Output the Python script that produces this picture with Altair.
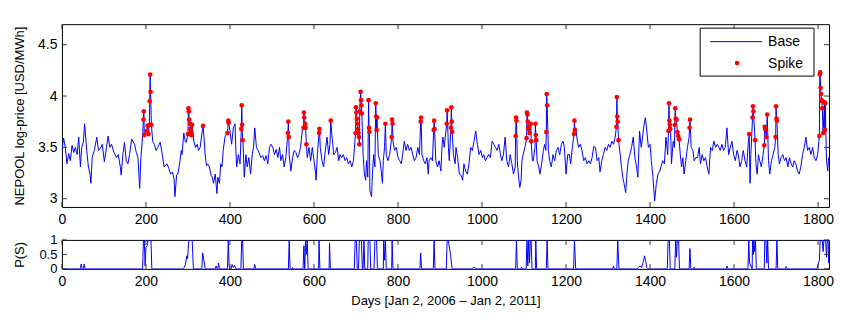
import altair as alt
import pandas as pd

FONT = "Liberation Sans"

# ---------------- data ----------------
base_days = [0, 4, 8, 12, 16, 20, 24, 28, 32, 36, 40, 44, 47, 51, 54, 59, 63, 67, 69, 72, 77, 83, 87, 93, 96, 101, 106, 110, 114, 118, 124, 130, 134, 139, 141, 145, 149, 153, 157, 161, 166, 173, 177, 181, 185, 188, 192, 198, 216, 220, 224, 228, 234, 239, 243, 250, 255, 259, 263, 267, 269, 273, 276, 281, 284, 286, 290, 294, 296,
             314, 318, 322, 325, 329, 333, 337, 341, 344, 347, 351, 355, 358, 361, 365, 369, 371, 375, 378, 381, 384, 388, 392, 400, 404, 408, 412, 414, 416, 420, 424, 431, 434, 438, 441, 445, 449, 453, 456, 459, 463, 467, 471, 474, 478, 482, 486, 490, 494, 498, 502, 506, 510, 514, 518, 521, 525, 529, 533, 537, 541, 545, 549, 553, 557, 561, 564, 568, 572, 584, 588, 592, 596,
             600, 604, 605, 608, 615, 619, 623, 627, 631, 635, 638, 643, 647, 651, 655, 659, 662, 666, 670, 674, 678, 682, 686, 690, 694, 717, 720, 723, 725, 728, 733, 735, 737, 739, 742, 745, 753, 757, 760, 763, 765, 768, 772, 776, 780, 784, 788, 792, 796, 800, 804, 808, 811, 815, 819, 823, 827, 831, 835, 839, 843, 847, 851, 857, 861, 865, 869, 872, 874, 878, 882, 890, 894, 898,
             902, 905, 907, 910, 914, 920, 922, 932, 936, 938, 942, 946, 950, 954, 957, 961, 965, 969, 973, 977, 981, 985, 989, 993, 997, 1001, 1004, 1008, 1012, 1016, 1020, 1024, 1028, 1032, 1036, 1040, 1044, 1047, 1051, 1055, 1059, 1063, 1067, 1071, 1075, 1079, 1084, 1087, 1090, 1093, 1095, 1098, 1102, 1105, 1120, 1122, 1126, 1131, 1135, 1138, 1142, 1146, 1149, 1152, 1158, 1161, 1165, 1169, 1173, 1177, 1181, 1185, 1189, 1193, 1196,
             1200, 1204, 1208, 1211, 1215, 1224, 1227, 1230, 1234, 1238, 1242, 1246, 1250, 1254, 1258, 1262, 1266, 1270, 1274, 1278, 1281, 1285, 1289, 1293, 1297, 1301, 1305, 1309, 1313, 1317, 1326, 1329, 1332, 1335, 1338, 1342, 1345, 1348, 1352, 1356, 1360, 1364, 1368, 1371, 1375, 1379, 1383, 1387, 1389, 1393, 1396, 1400, 1403, 1407, 1409, 1411, 1415, 1419, 1423, 1426, 1430, 1434, 1438, 1442, 1449, 1451, 1455, 1458, 1472, 1475, 1478, 1481, 1485, 1489, 1493, 1498,
             1502, 1505, 1509, 1513, 1517, 1520, 1524, 1528, 1532, 1536, 1540, 1544, 1548, 1552, 1556, 1560, 1564, 1567, 1571, 1575, 1579, 1583, 1587, 1591, 1595, 1599, 1603, 1607, 1610, 1614, 1618, 1622, 1626, 1630, 1634, 1638, 1640, 1652, 1655, 1658, 1661, 1665, 1669, 1682, 1685, 1689, 1693, 1697, 1705, 1708, 1712, 1716, 1720, 1724, 1728, 1732, 1736, 1740, 1743, 1747, 1751, 1755, 1759, 1763, 1767, 1771, 1775, 1779, 1783, 1787, 1791, 1795, 1799, 1820, 1823, 1825]
base_vals = [3.47, 3.59, 3.50, 3.34, 3.44, 3.37, 3.52, 3.45, 3.50, 3.43, 3.60, 3.31, 3.50, 3.55, 3.73, 3.47, 3.31, 3.24, 3.15, 3.40, 3.47, 3.60, 3.47, 3.50, 3.53, 3.36, 3.50, 3.61, 3.50, 3.53, 3.45, 3.40, 3.43, 3.31, 3.23, 3.43, 3.55, 3.37, 3.34, 3.43, 3.58, 3.53, 3.45, 3.40, 3.10, 3.40, 3.61, 3.63, 3.56, 3.53, 3.47, 3.50, 3.55, 3.43, 3.31, 3.34, 3.29, 3.24, 3.26, 3.19, 3.02, 3.23, 3.24, 3.37, 3.47, 3.43, 3.64, 3.55, 3.55,
             3.56, 3.50, 3.53, 3.47, 3.50, 3.63, 3.66, 3.43, 3.32, 3.34, 3.31, 3.23, 3.21, 3.15, 3.24, 3.05, 3.21, 3.15, 3.34, 3.31, 3.47, 3.60, 3.63, 3.66, 3.53, 3.69, 3.73, 3.47, 3.31, 3.43, 3.34, 3.56, 3.21, 3.43, 3.31, 3.40, 3.24, 3.43, 3.50, 3.69, 3.50, 3.47, 3.43, 3.40, 3.42, 3.37, 3.42, 3.34, 3.50, 3.53, 3.50, 3.43, 3.48, 3.40, 3.50, 3.37, 3.43, 3.31, 3.40, 3.60, 3.43, 3.27, 3.40, 3.47, 3.45, 3.40, 3.43, 3.50, 3.66, 3.40, 3.50, 3.37, 3.50,
             3.37, 3.24, 3.18, 3.43, 3.50, 3.37, 3.31, 3.47, 3.60, 3.43, 3.53, 3.60, 3.43, 3.45, 3.50, 3.37, 3.43, 3.40, 3.43, 3.37, 3.40, 3.34, 3.37, 3.31, 3.37, 3.43, 3.24, 3.18, 3.37, 3.21, 3.08, 3.05, 3.02, 3.24, 3.43, 3.31, 3.43, 3.37, 3.27, 3.15, 3.37, 3.50, 3.43, 3.37, 3.43, 3.56, 3.56, 3.47, 3.50, 3.40, 3.37, 3.34, 3.43, 3.56, 3.47, 3.53, 3.47, 3.50, 3.43, 3.37, 3.40, 3.50, 3.43, 3.43, 3.37, 3.34, 3.40, 3.24, 3.37, 3.40, 3.37, 3.37, 3.31, 3.37,
             3.27, 3.53, 3.60, 3.50, 3.66, 3.50, 3.37, 3.43, 3.34, 3.50, 3.40, 3.24, 3.23, 3.18, 3.34, 3.27, 3.24, 3.34, 3.50, 3.47, 3.56, 3.66, 3.53, 3.43, 3.47, 3.40, 3.43, 3.37, 3.40, 3.43, 3.40, 3.56, 3.53, 3.50, 3.47, 3.53, 3.43, 3.37, 3.43, 3.60, 3.37, 3.31, 3.43, 3.34, 3.24, 3.31, 3.37, 3.21, 3.11, 3.18, 3.37, 3.43, 3.50, 3.56, 3.37, 3.37, 3.50, 3.37, 3.31, 3.24, 3.34, 3.47, 3.53, 3.47, 3.47, 3.37, 3.31, 3.43, 3.37, 3.47, 3.50, 3.43, 3.53, 3.56, 3.50,
             3.24, 3.43, 3.43, 3.34, 3.50, 3.66, 3.56, 3.50, 3.53, 3.47, 3.37, 3.40, 3.34, 3.37, 3.34, 3.40, 3.51, 3.50, 3.37, 3.40, 3.26, 3.37, 3.43, 3.50, 3.47, 3.53, 3.50, 3.56, 3.53, 3.60, 3.53, 3.43, 3.31, 3.21, 3.15, 3.06, 3.24, 3.37, 3.43, 3.50, 3.60, 3.40, 3.31, 3.21, 3.66, 3.50, 3.63, 3.76, 3.79, 3.63, 3.50, 3.53, 3.37, 3.21, 3.08, 2.98, 3.15, 3.24, 3.27, 3.31, 3.37, 3.34, 3.60, 3.43, 3.66, 3.34, 3.56, 3.50, 3.43, 3.31, 3.40, 3.24, 3.37, 3.50, 3.60, 3.50,
             3.47, 3.37, 3.40, 3.40, 3.50, 3.34, 3.43, 3.37, 3.40, 3.31, 3.24, 3.50, 3.47, 3.56, 3.50, 3.53, 3.50, 3.47, 3.53, 3.47, 3.50, 3.69, 3.43, 3.50, 3.56, 3.43, 3.37, 3.47, 3.43, 3.31, 3.37, 3.47, 3.37, 3.31, 3.55, 3.15, 3.43, 3.34, 3.24, 3.43, 3.37, 3.31, 3.43, 3.37, 3.24, 3.37, 3.43, 3.50, 3.43, 3.34, 3.40, 3.43, 3.37, 3.40, 3.31, 3.40, 3.34, 3.31, 3.37, 3.34, 3.27, 3.24, 3.31, 3.43, 3.50, 3.60, 3.47, 3.50, 3.43, 3.50, 3.40, 3.37, 3.43, 3.37, 3.27, 3.40]

spike_days = [194, 195, 196, 202, 204, 206, 208, 209, 210, 211, 213,
              300, 301, 302, 303, 305, 306, 307, 308, 310, 336, 394, 396, 397, 427, 428, 429, 430,
              538, 539, 540, 575, 576, 577, 579, 580, 582, 612, 613, 640,
              699, 700, 701, 702, 703, 705, 706, 707, 708, 709, 711, 712, 713, 714,
              730, 731, 732, 747, 748, 749, 750, 770, 785, 786, 787, 854, 855, 885, 886, 887,
              916, 917, 926, 927, 928, 929, 1080, 1081, 1082,
              1106, 1107, 1108, 1109, 1110, 1111, 1112, 1113, 1116, 1117, 1127, 1128, 1129, 1153, 1154, 1155,
              1219, 1220, 1221, 1320, 1321, 1322, 1323, 1325,
              1444, 1445, 1446, 1447, 1448, 1459, 1460, 1461, 1463, 1465, 1467, 1469, 1494, 1495,
              1636, 1644, 1645, 1646, 1650, 1672, 1673, 1674, 1677, 1679, 1699, 1700, 1701, 1702,
              1803, 1804, 1805, 1806, 1807, 1808, 1809, 1810, 1812, 1815, 1816, 1817]
spike_vals = [3.77, 3.85, 3.62, 3.66, 3.71, 3.63, 3.72, 3.95, 4.21, 4.04, 3.72,
              3.63, 3.88, 3.85, 3.77, 3.73, 3.68, 3.65, 3.62, 3.72, 3.71, 3.64, 3.76, 3.74, 3.68, 3.91, 3.72, 3.57,
              3.64, 3.75, 3.60, 3.69, 3.84, 3.79, 3.73, 3.69, 3.53, 3.64, 3.68, 3.76,
              3.64, 3.89, 3.84, 3.78, 3.73, 3.68, 3.64, 3.60, 3.53, 3.85, 4.04, 3.96, 3.91, 3.83,
              3.96, 3.69, 3.65, 3.93, 3.80, 3.67, 3.79, 3.73, 3.60, 3.77, 3.73, 3.75, 3.79, 3.67, 3.76, 3.68,
              3.73, 3.86, 3.69, 3.89, 3.75, 3.65, 3.61, 3.79, 3.76,
              3.59, 3.84, 3.82, 3.75, 3.68, 3.69, 3.70, 3.64, 3.73, 3.56, 3.73, 3.62, 3.57, 3.65, 4.02, 3.91,
              3.63, 3.76, 3.67, 3.70, 3.99, 3.80, 3.75, 3.57,
              3.66, 3.93, 3.76, 3.72, 3.68, 3.72, 3.88, 3.78, 3.77, 3.65, 3.61, 3.58, 3.69, 3.77,
              3.63, 3.79, 3.90, 3.85, 3.57, 3.52, 3.70, 3.68, 3.60, 3.82, 3.60, 3.90, 3.78, 3.76,
              3.61, 4.21, 4.23, 4.08, 4.02, 3.96, 3.95, 3.88, 3.64, 3.94, 3.67, 3.93]

ps_days = [0, 44, 46, 48, 51, 53, 55,
           192, 194, 196, 198, 200, 203, 205, 212, 214,
           288, 291, 294, 297, 299, 302, 310, 313, 333, 335, 338, 341,
           365, 367, 369, 371, 373, 375, 394, 396, 398, 400, 403, 405, 408, 411, 414, 426, 428, 430, 432, 457, 459, 461,
           539, 541, 543, 548, 549, 551, 574, 576, 578, 580, 582, 584, 586, 611, 612, 614, 636, 637, 639,
           696, 698, 701, 703, 706, 708, 713, 715, 717, 719, 721, 728, 729, 733, 735, 743, 745, 749, 751,
           765, 766, 768, 770, 772, 785, 786, 788, 852, 854, 856, 884, 886, 888, 915, 917, 920, 925, 929,
           976, 978, 984, 986, 1080, 1082, 1084, 1093, 1094, 1096,
           1105, 1107, 1109, 1111, 1113, 1115, 1117, 1119, 1127, 1128, 1130, 1153, 1155, 1157,
           1218, 1220, 1223, 1311, 1313, 1315, 1321, 1323, 1326,
           1370, 1372, 1376, 1380, 1384, 1387, 1390, 1392, 1395,
           1441, 1443, 1446, 1448, 1459, 1461, 1463, 1465, 1468, 1470, 1493, 1495, 1497, 1504, 1505, 1507,
           1581, 1583, 1585, 1633, 1635, 1637, 1643, 1644, 1646, 1647, 1649, 1651, 1653,
           1672, 1673, 1676, 1678, 1680, 1682, 1700, 1702, 1704, 1722, 1724, 1726,
           1797, 1799, 1801, 1803, 1805, 1810, 1812, 1814, 1818, 1820, 1822, 1824, 1825]
ps_vals = [0, 0, 0.17, 0, 0, 0.17, 0,
           0, 1, 1, 0.1, 0.75, 0.8, 1, 1, 0,
           0, 0.05, 0.15, 0.45, 0.35, 1, 1, 0, 0, 0.55, 0.3, 0,
           0, 0.1, 0, 0, 0.2, 0, 0, 1, 0.1, 0, 0, 0.15, 0.05, 0.12, 0, 0, 1, 1, 0, 0, 0.15, 0,
           0, 1, 0, 0, 0.05, 0, 0, 0.8, 0, 1, 0.5, 1, 0, 0, 1, 0, 0, 0.9, 0,
           0, 1, 1, 0, 0, 1, 1, 0, 0, 1, 0, 0, 1, 1, 0, 0, 1, 1, 0,
           0, 1, 0.3, 1, 0, 0, 1, 0, 0, 0.55, 0, 0, 1, 0, 0, 1, 0.95, 0.5, 0,
           0, 0.04, 0.04, 0, 0, 1, 0, 0, 0.06, 0,
           0, 1, 0.1, 1, 0.2, 1, 1, 0, 0, 1, 0, 0, 1, 0,
           0, 1, 0, 0, 0.1, 0, 0, 1, 0,
           0, 0.05, 0.1, 0.05, 0.25, 0.45, 0.25, 0.05, 0,
           0, 1, 1, 0, 0, 1, 0.4, 1, 1, 0, 0, 0.7, 0, 0, 0.06, 0,
           0, 0.1, 0, 0, 1, 0.2, 0, 1, 0.5, 1, 0.6, 1, 0,
           0, 1, 1, 0.2, 1, 0, 0, 1, 0, 0, 0.08, 0,
           0, 0.1, 0.2, 0.3, 1, 1, 0.6, 1, 1, 0.4, 1, 1, 0.2]

x_ticks = [0, 200, 400, 600, 800, 1000, 1200, 1400, 1600, 1800]
y_ticks = [3, 3.5, 4, 4.5]
ps_ticks = [0, 0.5, 1]
legend_labels = ["Base", "Spike"]

# ---------------- tables ----------------
line_df = pd.DataFrame({"day": base_days + spike_days, "val": base_vals + spike_vals})
line_df = line_df.sort_values("day", kind="stable").reset_index(drop=True)
line_df["ord"] = range(len(line_df))
spike_df = pd.DataFrame({"day": spike_days, "val": spike_vals})
ps_df = pd.DataFrame({"day": ps_days, "p": ps_vals})
one = pd.DataFrame({"k": [0]})

W, H1, H2 = 768, 183, 29
BLUE, RED = "#0000ff", "#ff0000"
TICKC = "#333333"

xs = alt.Scale(domain=[0, 1826], nice=False, zero=False)
ys = alt.Scale(domain=[2.92, 4.7], nice=False, zero=False)
ps_s = alt.Scale(domain=[0, 1], nice=False, zero=False)


def xaxis(title=None):
    return alt.Axis(values=x_ticks, ticks=False, domain=False, grid=False, labelPadding=6,
                    format="d", labelFlush=False, title=title, titlePadding=6)


def yaxis(vals, title, lsize=14):
    return alt.Axis(values=vals, ticks=False, domain=False, grid=False, labelPadding=5,
                    format="~g", title=title, titlePadding=11, minExtent=24, maxExtent=24,
                    labelFlush=False, labelFontSize=lsize)


def inner_ticks(xvals, yvals, xscale, yscale, h, yname, xax, yax):
    tx = pd.DataFrame({"day": xvals})
    ty = pd.DataFrame({yname: yvals})
    r = dict(color=TICKC, strokeWidth=1)
    Y = alt.Y(f"{yname}:Q", scale=yscale, axis=yax)
    X = alt.X("day:Q", scale=xscale, axis=xax)
    return [
        alt.Chart(ty).mark_rule(**r).encode(y=Y, x=alt.value(0), x2=alt.value(5)),
        alt.Chart(ty).mark_rule(**r).encode(y=Y, x=alt.value(W - 5), x2=alt.value(W)),
        alt.Chart(tx).mark_rule(**r).encode(x=X, y=alt.value(h - 5), y2=alt.value(h)),
        alt.Chart(tx).mark_rule(**r).encode(x=X, y=alt.value(0), y2=alt.value(5)),
    ]


main_xax = xaxis(None)
main_yax = yaxis(y_ticks, "NEPOOL log-price [USD/MWh]")

line = alt.Chart(line_df).mark_line(color=BLUE, strokeWidth=1, clip=True).encode(
    x=alt.X("day:Q", scale=xs, axis=main_xax),
    y=alt.Y("val:Q", scale=ys, axis=main_yax),
    order="ord:Q",
)
pts = alt.Chart(spike_df).mark_circle(color=RED, size=22, opacity=1).encode(
    x=alt.X("day:Q", scale=xs, axis=main_xax), y=alt.Y("val:Q", scale=ys, axis=main_yax)
)

# legend box (pixel offsets inside the plot area)
LX = 639
leg_box = alt.Chart(one).mark_rect(fill="white", stroke="black", strokeWidth=1).encode(
    x=alt.value(LX), x2=alt.value(LX + 114), y=alt.value(4), y2=alt.value(52))
leg_line = alt.Chart(one).mark_rule(strokeWidth=1).encode(
    x=alt.value(LX + 10), x2=alt.value(LX + 62), y=alt.value(17.5), color=alt.value(BLUE))
leg_dot = alt.Chart(one).mark_circle(size=22, opacity=1).encode(
    x=alt.value(LX + 37), y=alt.value(39), color=alt.value(RED))
leg_t1 = alt.Chart(one).mark_text(text=legend_labels[0], align="left", baseline="middle",
                                  font=FONT, fontSize=14, color="black").encode(
    x=alt.value(LX + 68), y=alt.value(18))
leg_t2 = alt.Chart(one).mark_text(text=legend_labels[1], align="left", baseline="middle",
                                  font=FONT, fontSize=14, color="black").encode(
    x=alt.value(LX + 68), y=alt.value(39.5))

main = alt.layer(line, pts, *inner_ticks(x_ticks, y_ticks, xs, ys, H1, "val", main_xax, main_yax),
                 leg_box, leg_line, leg_dot, leg_t1, leg_t2).properties(width=W, height=H1)

bot_xax = xaxis("Days [Jan 2, 2006 \u2013 Jan 2, 2011]")
bot_yax = yaxis(ps_ticks, "P(S)", 13)
ps_line = alt.Chart(ps_df).mark_line(color=BLUE, strokeWidth=1, clip=True).encode(
    x=alt.X("day:Q", scale=xs, axis=bot_xax),
    y=alt.Y("p:Q", scale=ps_s, axis=bot_yax),
)
bottom = alt.layer(ps_line, *inner_ticks(x_ticks, ps_ticks, xs, ps_s, H2, "p", bot_xax, bot_yax)).properties(width=W, height=H2)

chart = alt.vconcat(main, bottom, spacing=33, bounds="flush").properties(
    padding={"top": 15, "left": 5, "right": 0, "bottom": 0}
).configure_view(stroke="black", strokeWidth=1).configure_axis(
    labelFont=FONT, titleFont=FONT, labelFontSize=14, titleFontSize=13,
    labelColor="black", titleColor="black", titleFontWeight="normal"
)

chart.save("out.html", embed_options={"renderer": "svg", "actions": False})
